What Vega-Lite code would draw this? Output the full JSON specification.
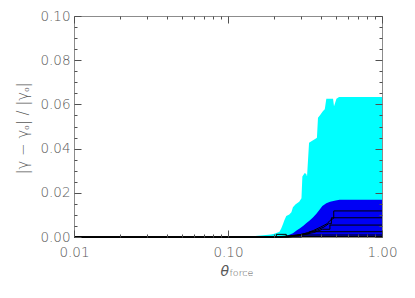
{
  "$schema": "https://vega.github.io/schema/vega-lite/v6.json",
  "width": 308,
  "height": 221,
  "autosize": {"type": "none"},
  "padding": {"left": 74, "top": 16, "right": 33, "bottom": 61},
  "background": "white",
  "config": {
    "view": {"stroke": "#8c8c8c", "strokeWidth": 1},
    "axis": {
      "domain": false,
      "labelColor": "#585858",
      "titleColor": "#585858",
      "labelFont": "DejaVu Sans",
      "titleFont": "DejaVu Sans",
      "labelFontSize": 13.5,
      "labelFontWeight": 300,
      "titleFontWeight": 300,
      "grid": false
    }
  },
  "datasets": {
    "cyan": [
      {"x": 0.01, "y": 0}, {"x": 0.115, "y": 0}, {"x": 0.13, "y": 0.0002}, {"x": 0.15, "y": 0.0004},
      {"x": 0.17, "y": 0.0008}, {"x": 0.19, "y": 0.0011}, {"x": 0.2, "y": 0.0015}, {"x": 0.216, "y": 0.0024},
      {"x": 0.222, "y": 0.004}, {"x": 0.228, "y": 0.006}, {"x": 0.232, "y": 0.0075}, {"x": 0.239, "y": 0.0095},
      {"x": 0.25, "y": 0.0102}, {"x": 0.258, "y": 0.0112}, {"x": 0.264, "y": 0.0135}, {"x": 0.275, "y": 0.0148},
      {"x": 0.29, "y": 0.016}, {"x": 0.3, "y": 0.0175}, {"x": 0.304, "y": 0.0274}, {"x": 0.315, "y": 0.029},
      {"x": 0.322, "y": 0.0285}, {"x": 0.326, "y": 0.0274}, {"x": 0.336, "y": 0.0426}, {"x": 0.348, "y": 0.0433},
      {"x": 0.37, "y": 0.0445}, {"x": 0.378, "y": 0.0449}, {"x": 0.384, "y": 0.054}, {"x": 0.4, "y": 0.0555},
      {"x": 0.414, "y": 0.057}, {"x": 0.425, "y": 0.0578}, {"x": 0.435, "y": 0.0626}, {"x": 0.481, "y": 0.0626},
      {"x": 0.488, "y": 0.0592}, {"x": 0.506, "y": 0.0626}, {"x": 0.526, "y": 0.0633}, {"x": 1, "y": 0.0633}
    ],
    "blue": [
      {"x": 0.01, "y": 0}, {"x": 0.19, "y": 0}, {"x": 0.22, "y": 0.0002}, {"x": 0.239, "y": 0.0004},
      {"x": 0.264, "y": 0.0017}, {"x": 0.28, "y": 0.003}, {"x": 0.292, "y": 0.0039}, {"x": 0.31, "y": 0.0052},
      {"x": 0.322, "y": 0.0062}, {"x": 0.339, "y": 0.0075}, {"x": 0.356, "y": 0.0088}, {"x": 0.375, "y": 0.0105},
      {"x": 0.394, "y": 0.0125}, {"x": 0.41, "y": 0.014}, {"x": 0.435, "y": 0.0153}, {"x": 0.46, "y": 0.016},
      {"x": 0.5, "y": 0.0165}, {"x": 0.531, "y": 0.0168}, {"x": 1, "y": 0.0168}
    ],
    "lines": [
      {"id": 1, "i": 0, "x": 0.01, "y": 0}, {"id": 1, "i": 1, "x": 0.2, "y": 0}, {"id": 1, "i": 2, "x": 0.25, "y": 0.0005},
      {"id": 1, "i": 3, "x": 0.3, "y": 0.0012}, {"id": 1, "i": 4, "x": 0.33, "y": 0.002}, {"id": 1, "i": 5, "x": 0.36, "y": 0.003},
      {"id": 1, "i": 6, "x": 0.4, "y": 0.0045}, {"id": 1, "i": 7, "x": 0.44, "y": 0.006}, {"id": 1, "i": 8, "x": 0.46, "y": 0.0075},
      {"id": 1, "i": 9, "x": 0.486, "y": 0.0085}, {"id": 1, "i": 10, "x": 0.486, "y": 0.0118}, {"id": 1, "i": 11, "x": 1, "y": 0.0118},
      {"id": 2, "i": 0, "x": 0.01, "y": 0}, {"id": 2, "i": 1, "x": 0.22, "y": 0}, {"id": 2, "i": 2, "x": 0.28, "y": 0.0008},
      {"id": 2, "i": 3, "x": 0.33, "y": 0.0018}, {"id": 2, "i": 4, "x": 0.38, "y": 0.0032}, {"id": 2, "i": 5, "x": 0.42, "y": 0.0045},
      {"id": 2, "i": 6, "x": 0.45, "y": 0.006}, {"id": 2, "i": 7, "x": 0.469, "y": 0.006}, {"id": 2, "i": 8, "x": 0.469, "y": 0.0087},
      {"id": 2, "i": 9, "x": 1, "y": 0.0087},
      {"id": 3, "i": 0, "x": 0.01, "y": 0}, {"id": 3, "i": 1, "x": 0.24, "y": 0}, {"id": 3, "i": 2, "x": 0.3, "y": 0.001},
      {"id": 3, "i": 3, "x": 0.36, "y": 0.002}, {"id": 3, "i": 4, "x": 0.41, "y": 0.0035}, {"id": 3, "i": 5, "x": 0.459, "y": 0.0035},
      {"id": 3, "i": 6, "x": 0.459, "y": 0.0054}, {"id": 3, "i": 7, "x": 1, "y": 0.0054},
      {"id": 4, "i": 0, "x": 0.01, "y": 0}, {"id": 4, "i": 1, "x": 0.25, "y": 0}, {"id": 4, "i": 2, "x": 0.3, "y": 0.0008},
      {"id": 4, "i": 3, "x": 0.339, "y": 0.0015}, {"id": 4, "i": 4, "x": 0.339, "y": 0.0024}, {"id": 4, "i": 5, "x": 1, "y": 0.0024},
      {"id": 5, "i": 0, "x": 0.01, "y": 0}, {"id": 5, "i": 1, "x": 0.206, "y": 0}, {"id": 5, "i": 2, "x": 0.206, "y": 0.0012},
      {"id": 5, "i": 3, "x": 0.239, "y": 0.0012}, {"id": 5, "i": 4, "x": 0.239, "y": 0.0003}, {"id": 5, "i": 5, "x": 0.29, "y": 0.0005},
      {"id": 5, "i": 6, "x": 0.29, "y": 0.0009}, {"id": 5, "i": 7, "x": 1, "y": 0.0009},
      {"id": 6, "i": 0, "x": 0.01, "y": 0}, {"id": 6, "i": 1, "x": 0.3, "y": 0}, {"id": 6, "i": 2, "x": 0.3, "y": 0.0002},
      {"id": 6, "i": 3, "x": 1, "y": 0.0002}
    ]
  },
  "layer": [
    {
      "data": {"name": "cyan"},
      "mark": {"type": "area", "color": "#00ffff", "opacity": 1},
      "encoding": {
        "x": {
          "field": "x", "type": "quantitative",
          "scale": {"type": "log", "domain": [0.01, 1]},
          "axis": {
            "orient": "bottom", "offset": -7, "values": [0.01, 0.1, 1], "format": ".2f",
            "ticks": true, "tickSize": 7, "tickColor": "#505050", "tickWidth": 1, "zindex": 2,
            "labelPadding": 8, "labelFlush": false,
            "title": "θ", "titleFontSize": 14, "titleFontStyle": "italic", "titleX": 146, "titleY": 45,
            "titleAlign": "left", "titleBaseline": "alphabetic"
          }
        },
        "y": {
          "field": "y", "type": "quantitative", "stack": null,
          "scale": {"domain": [0, 0.1]},
          "axis": {
            "orient": "left", "offset": -7, "values": [0, 0.02, 0.04, 0.06, 0.08, 0.1], "format": ".2f",
            "ticks": true, "tickSize": 7, "tickColor": "#505050", "tickWidth": 1, "zindex": 2,
            "labelPadding": 4,
            "title": "|γ − γₒ|  /  |γₒ|", "titleFontSize": 15, "titleX": -51, "titleY": 112,
            "titleAlign": "center", "titleBaseline": "bottom", "titleAngle": 270
          }
        }
      }
    },
    {
      "data": {"name": "blue"},
      "mark": {"type": "area", "color": "#0000f5", "opacity": 1},
      "encoding": {
        "x": {
          "field": "x", "type": "quantitative",
          "axis": {
            "orient": "bottom", "offset": -3,
            "values": [0.02, 0.03, 0.04, 0.05, 0.06, 0.07, 0.08, 0.09, 0.2, 0.3, 0.4, 0.5, 0.6, 0.7, 0.8, 0.9],
            "labels": false, "ticks": true, "tickSize": 3, "tickColor": "#505050", "tickWidth": 1, "zindex": 2,
            "title": "force", "titleFontSize": 9.5, "titleX": 155, "titleY": 41,
            "titleAlign": "left", "titleBaseline": "alphabetic"
          }
        },
        "y": {
          "field": "y", "type": "quantitative", "stack": null,
          "axis": {
            "orient": "left", "offset": -3,
            "values": [0.005, 0.01, 0.015, 0.025, 0.03, 0.035, 0.045, 0.05, 0.055, 0.065, 0.07, 0.075, 0.085, 0.09, 0.095],
            "labels": false, "ticks": true, "tickSize": 3, "tickColor": "#505050", "tickWidth": 1, "zindex": 2, "title": null
          }
        }
      }
    },
    {
      "data": {"name": "lines"},
      "transform": [{"filter": "datum.id <= 3"}],
      "mark": {"type": "line", "color": "#000000", "strokeWidth": 1},
      "encoding": {
        "x": {
          "field": "x", "type": "quantitative",
          "axis": {"orient": "top", "offset": -7, "values": [0.01, 0.1, 1], "labels": false, "ticks": true, "tickSize": 7, "tickColor": "#505050", "tickWidth": 1, "zindex": 2, "title": null}
        },
        "y": {
          "field": "y", "type": "quantitative",
          "axis": {"orient": "right", "offset": -7, "values": [0, 0.02, 0.04, 0.06, 0.08, 0.1], "labels": false, "ticks": true, "tickSize": 7, "tickColor": "#505050", "tickWidth": 1, "zindex": 2, "title": null}
        },
        "detail": {"field": "id"},
        "order": {"field": "i"}
      }
    },
    {
      "data": {"name": "lines"},
      "transform": [{"filter": "datum.id > 3"}],
      "mark": {"type": "line", "color": "#000000", "strokeWidth": 1},
      "encoding": {
        "x": {
          "field": "x", "type": "quantitative",
          "axis": {
            "orient": "top", "offset": -3,
            "values": [0.02, 0.03, 0.04, 0.05, 0.06, 0.07, 0.08, 0.09, 0.2, 0.3, 0.4, 0.5, 0.6, 0.7, 0.8, 0.9],
            "labels": false, "ticks": true, "tickSize": 3, "tickColor": "#505050", "tickWidth": 1, "zindex": 2, "title": null
          }
        },
        "y": {
          "field": "y", "type": "quantitative",
          "axis": {
            "orient": "right", "offset": -3,
            "values": [0.005, 0.01, 0.015, 0.025, 0.03, 0.035, 0.045, 0.05, 0.055, 0.065, 0.07, 0.075, 0.085, 0.09, 0.095],
            "labels": false, "ticks": true, "tickSize": 3, "tickColor": "#505050", "tickWidth": 1, "zindex": 2, "title": null
          }
        },
        "detail": {"field": "id"},
        "order": {"field": "i"}
      }
    }
  ],
  "resolve": {"axis": {"x": "independent", "y": "independent"}}
}
